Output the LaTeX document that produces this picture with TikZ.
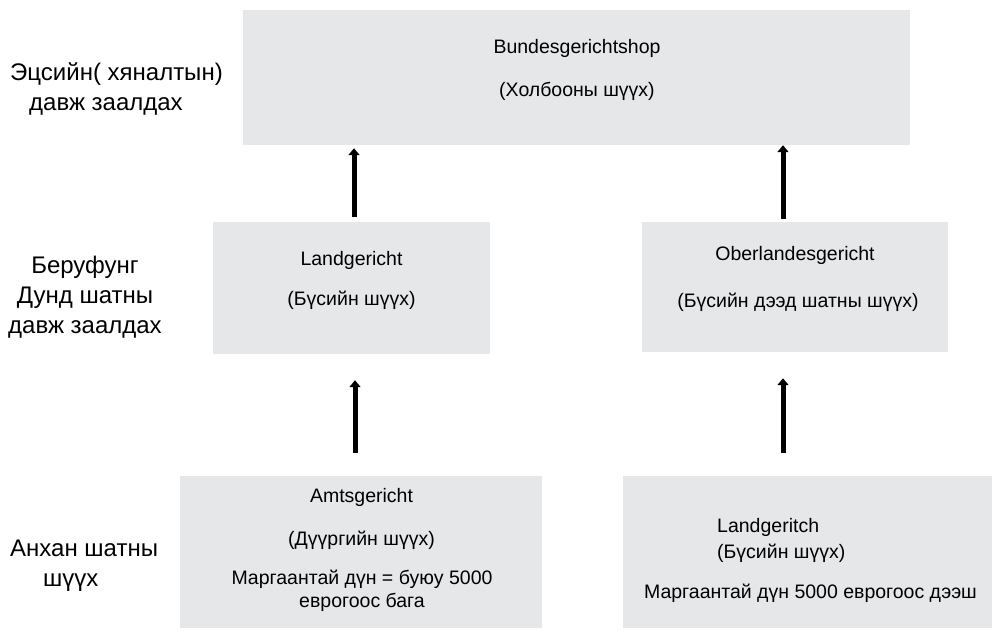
\documentclass[tikz,border=0pt]{standalone}
\usepackage{fontspec}
\setmainfont{Liberation Sans}
\usetikzlibrary{arrows.meta}
\definecolor{boxgray}{RGB}{230,231,233}
\tikzset{
    court/.style={fill=boxgray, inner sep=0pt},
    txt/.style={inner sep=0pt, font=\fontsize{19.5}{23}\selectfont},
    lvl/.style={inner sep=0pt, font=\fontsize{24}{30}\selectfont},
    up/.style={line width=5pt, -{Triangle[width=11pt,length=7pt]}}
}

\begin{document}
\begin{tikzpicture}[x=1pt, y=-1pt]
                \useasboundingbox (0,0) rectangle (992,630);

                \node[court, minimum width=667, minimum height=135] (top) at (576.5,77.5) {};
                \node[court, minimum width=277, minimum height=132] (ml) at (351.5,288) {};
                \node[court, minimum width=306, minimum height=130] (mr) at (795,287) {};
                \node[court, minimum width=362, minimum height=152] (bl) at (361,552) {};
                \node[court, minimum width=369, minimum height=152] (br) at (807.5,552) {};

                \node[txt] (bgh) at (577,48) {Bundesgerichtshop};
                \node[txt] (bghmn) at (577,91) {(Холбооны шүүх)};
                \node[txt] (lg) at (351.5,260) {Landgericht};
                \node[txt] (lgmn) at (351.5,300) {(Бүсийн шүүх)};
                \node[txt] (olg) at (795,255) {Oberlandesgericht};
                \node[txt] (olgmn) at (798,302) {(Бүсийн дээд шатны шүүх)};
                \node[txt] (ag) at (361.5,497) {Amtsgericht};
                \node[txt] (agmn) at (361.5,540) {(Дүүргийн шүүх)};
                \node[txt, align=center] (agsum) at (362,591) {Маргаантай дүн = буюу 5000\\еврогоос бага};
                \node[txt, anchor=west] (lg2) at (717,527) {Landgeritch};
                \node[txt, anchor=west] (lg2mn) at (717,553) {(Бүсийн шүүх)};
                \node[txt] (lgsum) at (810.5,593) {Маргаантай дүн 5000 еврогоос дээш};

                \node[lvl, align=left, anchor=west] (rev) at (10,89) {Эцсийн( хяналтын)\\\hspace*{19pt}давж заалдах};
                \node[lvl, align=center] (ber) at (85,297) {Беруфунг\\Дунд шатны\\давж заалдах};
                \node[lvl, align=left, anchor=west] (anh) at (10,566) {Анхан шатны\\\hspace*{33pt}шүүх};

                \coordinate (r1) at ([xshift=-12]mr.north);
                \coordinate (r2) at ([xshift=-12]mr.south);
                \coordinate (r3) at ([xshift=-24.5]br.north);
                \coordinate (l1) at ([xshift=2.5]ml.north);
                \coordinate (l2) at ([xshift=3.5]ml.south);
                \coordinate (l3) at ([xshift=-6]bl.north);

                \draw[up, shorten <=5pt, shorten >=3pt] (l1) -- (l1 |- top.south);
                \draw[up, shorten <=3pt, shorten >=0pt] (r1) -- (r1 |- top.south);
                \draw[up, shorten <=23pt, shorten >=26pt] (l3) -- (l2);
                \draw[up, shorten <=23pt, shorten >=26pt] (r3) -- (r2);
            \end{tikzpicture}
\end{document}
